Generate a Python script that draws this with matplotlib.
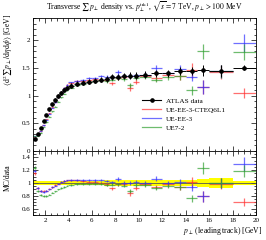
import numpy as np
import matplotlib
matplotlib.use("Agg")
import matplotlib.pyplot as plt
from matplotlib.ticker import MultipleLocator, FuncFormatter
from matplotlib.lines import Line2D

plt.rcParams['font.family'] = ['Liberation Serif', 'DejaVu Serif']
plt.rcParams['mathtext.fontset'] = 'stix'

# bin edges of leading-track pT [GeV]
bin_edges = [1.0, 1.25, 1.5, 1.75, 2.0, 2.25, 2.5, 2.75, 3.0, 3.25, 3.5, 3.75, 4.0,
             4.5, 5.0, 5.5, 6.0, 6.5, 7.0, 7.5, 8.0, 8.5, 9.0, 9.5, 10.0,
             11.0, 12.0, 13.0, 14.0, 15.0, 16.0, 18.0, 20.0]

data_vals = [0.22, 0.31, 0.41, 0.54, 0.65, 0.75, 0.84, 0.92, 0.99, 1.05, 1.10, 1.14,
             1.18, 1.21, 1.23, 1.25, 1.27, 1.29, 1.30, 1.33, 1.34, 1.35, 1.36, 1.36,
             1.38, 1.40, 1.40, 1.45, 1.44, 1.46, 1.44, 1.50]
data_err = [0.008, 0.011, 0.014, 0.018, 0.021, 0.024, 0.027, 0.030, 0.032, 0.034, 0.036, 0.038,
            0.045, 0.046, 0.047, 0.048, 0.049, 0.050, 0.052, 0.054, 0.055, 0.056, 0.058, 0.060,
            0.062, 0.065, 0.068, 0.072, 0.076, 0.10, 0.11, 0.045]

red_vals = [0.253, 0.285, 0.361, 0.470, 0.572, 0.683, 0.790, 0.892, 0.980, 1.061, 1.133, 1.186,
            1.227, 1.258, 1.267, 1.275, 1.295, 1.290, 1.274, 1.224, 1.313, 1.337, 1.142, 1.251,
            1.352, 1.316, 1.372, 1.349, 1.454, 1.153, 1.426, 1.05]
red_err = [0.004, 0.005, 0.006, 0.007, 0.008, 0.009, 0.010, 0.011, 0.012, 0.013, 0.014, 0.015,
           0.015, 0.017, 0.019, 0.021, 0.023, 0.025, 0.027, 0.03, 0.032, 0.035, 0.06, 0.04,
           0.04, 0.05, 0.05, 0.06, 0.13, 0.12, 0.12, 0.09]

blue_vals = [0.262, 0.288, 0.361, 0.464, 0.566, 0.675, 0.781, 0.883, 0.980, 1.071, 1.133, 1.186,
             1.239, 1.271, 1.279, 1.313, 1.321, 1.355, 1.339, 1.343, 1.420, 1.350, 1.360, 1.374,
             1.380, 1.498, 1.400, 1.479, 1.339, 1.153, 1.440, 1.95]
blue_err = [0.004, 0.005, 0.006, 0.007, 0.008, 0.009, 0.010, 0.011, 0.012, 0.013, 0.014, 0.015,
            0.015, 0.017, 0.019, 0.021, 0.023, 0.025, 0.027, 0.03, 0.04, 0.035, 0.04, 0.04,
            0.04, 0.06, 0.05, 0.07, 0.08, 0.12, 0.12, 0.16]

green_vals = [0.273, 0.273, 0.332, 0.432, 0.520, 0.615, 0.714, 0.800, 0.891, 0.966, 1.034, 1.094,
              1.145, 1.186, 1.218, 1.238, 1.257, 1.277, 1.261, 1.290, 1.313, 1.296, 1.183, 1.319,
              1.339, 1.288, 1.330, 1.349, 1.094, 1.796, 1.440, 1.785]
green_err = [0.004, 0.005, 0.006, 0.007, 0.008, 0.009, 0.010, 0.011, 0.012, 0.013, 0.014, 0.015,
             0.015, 0.017, 0.019, 0.021, 0.023, 0.025, 0.027, 0.03, 0.032, 0.035, 0.04, 0.04,
             0.04, 0.05, 0.05, 0.06, 0.08, 0.14, 0.12, 0.14]

series_labels = ['ATLAS data', 'UE-EE-3-CTEQ6L1', 'UE-EE-3', 'UE7-2']
series_colors = ['black', '#ff3030', '#3030ff', '#30a030']

edges = np.array(bin_edges)
xc = 0.5 * (edges[:-1] + edges[1:])
xw = 0.5 * (edges[1:] - edges[:-1])
d = np.array(data_vals)
de = np.array(data_err)

W, H = 266, 240
fig = plt.figure(figsize=(W / 100, H / 100), dpi=100)
L, R = 33.3 / W, 256 / W
ax = fig.add_axes([L, 1 - 151 / H, R - L, (151 - 18) / H])
rx = fig.add_axes([L, 1 - 215 / H, R - L, (215 - 151) / H], sharex=ax)

mc = [(red_vals, red_err), (blue_vals, blue_err), (green_vals, green_err)]

for (vals, errs), col in zip(mc, series_colors[1:]):
    v = np.array(vals); e = np.array(errs)
    ax.errorbar(xc, v, xerr=xw, yerr=e, fmt='none', ecolor=col, elinewidth=0.9, alpha=0.7, zorder=2)
    rx.errorbar(xc, v / d, xerr=xw, yerr=e / d, fmt='none', ecolor=col, elinewidth=0.9, alpha=0.7, zorder=3)

ax.errorbar(xc, d, xerr=xw, yerr=de, fmt='o', color='black', ms=2.3, elinewidth=0.7, zorder=4)

rel = de / d
rx.fill_between(edges, np.append(1 - rel, 1 - rel[-1]), np.append(1 + rel, 1 + rel[-1]),
                step='post', color='#ffff00', lw=0, zorder=1)
rx.hlines(1.0, edges[0], edges[-1], color='#555555', lw=0.6, zorder=2)

ax.set_xlim(1, 20)
ax.set_ylim(0, 2.4)
rx.set_ylim(0.5, 1.5)

for a in (ax, rx):
    a.tick_params(which='both', direction='in', top=True, right=True, labelsize=5, width=0.5, pad=2)
    a.tick_params(which='major', length=3.5)
    a.tick_params(which='minor', length=1.8)
    for s in a.spines.values():
        s.set_linewidth(0.6)
ax.xaxis.set_major_locator(MultipleLocator(2))
ax.xaxis.set_minor_locator(MultipleLocator(0.5))
ax.yaxis.set_major_locator(MultipleLocator(0.5))
ax.yaxis.set_minor_locator(MultipleLocator(0.1))
rx.yaxis.set_major_locator(MultipleLocator(0.2))
rx.yaxis.set_minor_locator(MultipleLocator(0.05))
fmt = FuncFormatter(lambda v, p: ('%g' % round(v, 3)))
ax.yaxis.set_major_formatter(fmt)
rx.yaxis.set_major_formatter(FuncFormatter(lambda v, p: '' if v > 1.45 or v < 0.55 else '%g' % round(v, 3)))
rx.xaxis.set_major_formatter(fmt)
plt.setp(ax.get_xticklabels(), visible=False)

fig.text(0.5 * (L + R), 1 - 7 / H,
         r'Transverse $\sum\, p_\perp$ density vs. $p_\perp^{\mathrm{trk1}}$, $\sqrt{s}=7$ TeV, $p_\perp > 100$ MeV',
         ha='center', va='center', fontsize=5.5)
fig.text(8 / W, 1 - 14 / H,
         r'$\langle \mathrm{d}^2 \sum\, p_\perp / \mathrm{d}\eta\, \mathrm{d}\phi \rangle$ [GeV]',
         rotation=90, ha='center', va='top', fontsize=5.5)
fig.text(8 / W, 1 - 178 / H, 'MC/data', rotation=90, ha='center', va='center', fontsize=5.5)
fig.text(262 / W, 1 - 231 / H, r'$p_\perp$ (leading track) [GeV]', ha='right', va='center', fontsize=5.5)

handles = [Line2D([], [], color='black', marker='o', ms=2.3, lw=0.8)]
for col in series_colors[1:]:
    handles.append(Line2D([], [], color=col, lw=0.9, alpha=0.7))
ax.legend(handles, series_labels, loc='upper left', bbox_to_anchor=(0.49, 0.40), frameon=False,
          fontsize=5.2, handlelength=2.6, handletextpad=0.7, labelspacing=0.4, borderpad=0,
          borderaxespad=0)

fig.savefig('out.png', dpi=100)
